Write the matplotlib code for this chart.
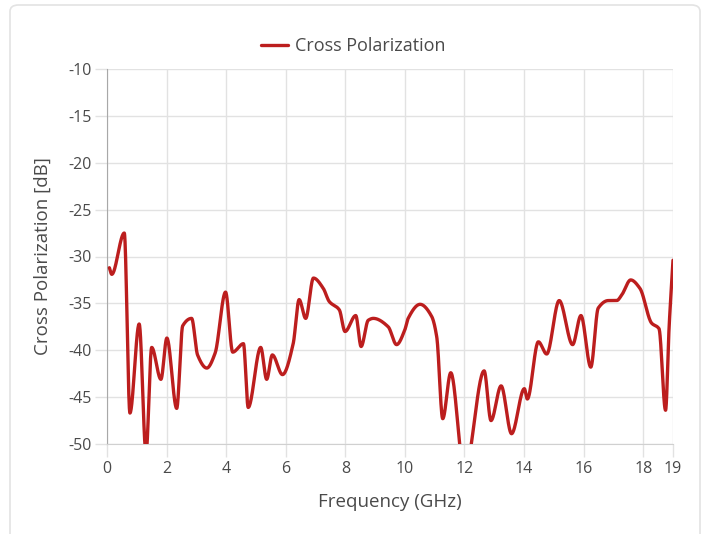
import numpy as np
import matplotlib
matplotlib.use("Agg")
import matplotlib.pyplot as plt
from matplotlib.patches import FancyBboxPatch

# values (GHz, dB)
freq = [0.08, 0.16, 0.58, 0.77, 1.08, 1.31, 1.50, 1.81, 2.01, 2.34, 2.54, 2.84,
        3.04, 3.35, 3.63, 3.98, 4.22, 4.58, 4.74, 5.16, 5.36, 5.55, 5.89, 6.25,
        6.45, 6.67, 6.93, 7.26, 7.46, 7.80, 7.99, 8.35, 8.53, 8.77, 8.94, 9.44,
        9.72, 10.0, 10.11, 10.51, 10.9, 11.07, 11.27, 11.54, 12.0, 12.66, 12.89,
        13.23, 13.58, 14.01, 14.11, 14.48, 14.76, 15.18, 15.63, 15.91, 16.24,
        16.49, 16.83, 17.11, 17.28, 17.58, 17.89, 18.28, 18.53, 18.75, 18.87, 19.0]
xpol = [-31.2, -31.9, -27.5, -46.7, -37.2, -51.0, -39.7, -43.1, -38.7, -46.2,
        -37.4, -36.6, -40.5, -41.9, -40.3, -33.8, -40.2, -39.3, -46.1, -39.7,
        -43.1, -40.5, -42.6, -39.3, -34.6, -36.6, -32.3, -33.4, -34.8, -35.7,
        -38.0, -36.3, -39.6, -36.8, -36.6, -37.5, -39.4, -37.8, -36.6, -35.1,
        -36.4, -38.6, -47.3, -42.4, -53.0, -42.2, -47.5, -43.8, -48.9, -44.1,
        -45.2, -39.1, -40.4, -34.7, -39.4, -36.3, -41.8, -35.5, -34.7, -34.7,
        -34.1, -32.5, -33.4, -37.1, -37.7, -46.4, -37.5, -30.4]

x_ticks = [0, 2, 4, 6, 8, 10, 12, 14, 16, 18, 19]
y_ticks = [-10, -15, -20, -25, -30, -35, -40, -45, -50]


def monotone_curve(x, y, n=30):
    # smooth monotone cubic line between the points (like the chart's curved line)
    x = np.asarray(x, float)
    y = np.asarray(y, float)
    h = np.diff(x)
    d = np.diff(y) / h
    m = np.zeros_like(y)
    m[0], m[-1] = d[0], d[-1]
    for i in range(1, len(y) - 1):
        if d[i - 1] * d[i] > 0:
            w1 = 2 * h[i] + h[i - 1]
            w2 = h[i] + 2 * h[i - 1]
            m[i] = (w1 + w2) / (w1 / d[i - 1] + w2 / d[i])
    xs, ys = [], []
    for i in range(len(h)):
        t = np.linspace(0, 1, n, endpoint=False)
        h00 = 2 * t**3 - 3 * t**2 + 1
        h10 = t**3 - 2 * t**2 + t
        h01 = -2 * t**3 + 3 * t**2
        h11 = t**3 - t**2
        xs.append(x[i] + t * h[i])
        ys.append(h00 * y[i] + h10 * h[i] * m[i] + h01 * y[i + 1] + h11 * h[i] * m[i + 1])
    xs.append([x[-1]])
    ys.append([y[-1]])
    return np.concatenate(xs), np.concatenate(ys)


plt.rcParams['font.family'] = ['Open Sans', 'DejaVu Sans']
txt = '#4a4a4a'

fig = plt.figure(figsize=(7.09, 5.34), dpi=100)
ax = fig.add_axes([107 / 709, 1 - 444 / 534, 566 / 709, 375 / 534])

# rounded card border
card = FancyBboxPatch((10 / 709, -0.05), 690 / 709, 1 - 5 / 534 + 0.05,
                      boxstyle="round,pad=0,rounding_size=0.012",
                      transform=fig.transFigure, facecolor='white',
                      edgecolor='#e3e3e3', linewidth=1.2, zorder=-10)
fig.patches.append(card)

xs, ys = monotone_curve(freq, xpol)
ax.plot(xs, ys, color='#BC1E1E', linewidth=2.4, label='Cross Polarization',
        solid_capstyle='round', zorder=3)

ax.set_xlim(0, 19)
ax.set_ylim(-50, -10)
ax.set_xticks(x_ticks)
ax.set_yticks(y_ticks)
ax.set_yticklabels([str(v) for v in y_ticks])
ax.grid(True, color='#e2e2e2', linewidth=1)
ax.set_axisbelow(True)

for s in ['top', 'right']:
    ax.spines[s].set_visible(False)
ax.spines['left'].set_color('#a8a8a8')
ax.spines['bottom'].set_color('#d0d0d0')
ax.tick_params(axis='both', colors='#e2e2e2', labelcolor=txt, labelsize=11.5,
               length=9, width=1)
ax.tick_params(axis='x', pad=3)
ax.tick_params(axis='y', pad=2)

ax.set_xlabel('Frequency (GHz)', fontsize=13.5, color=txt, labelpad=12)
ax.set_ylabel('Cross Polarization [dB]', fontsize=13.5, color=txt, labelpad=12)

fig.legend(loc='center', bbox_to_anchor=(353 / 709, 1 - 46 / 534), frameon=False,
           fontsize=13, handlelength=1.5, handletextpad=0.4, labelcolor=txt)

fig.savefig('out.png', dpi=100)
